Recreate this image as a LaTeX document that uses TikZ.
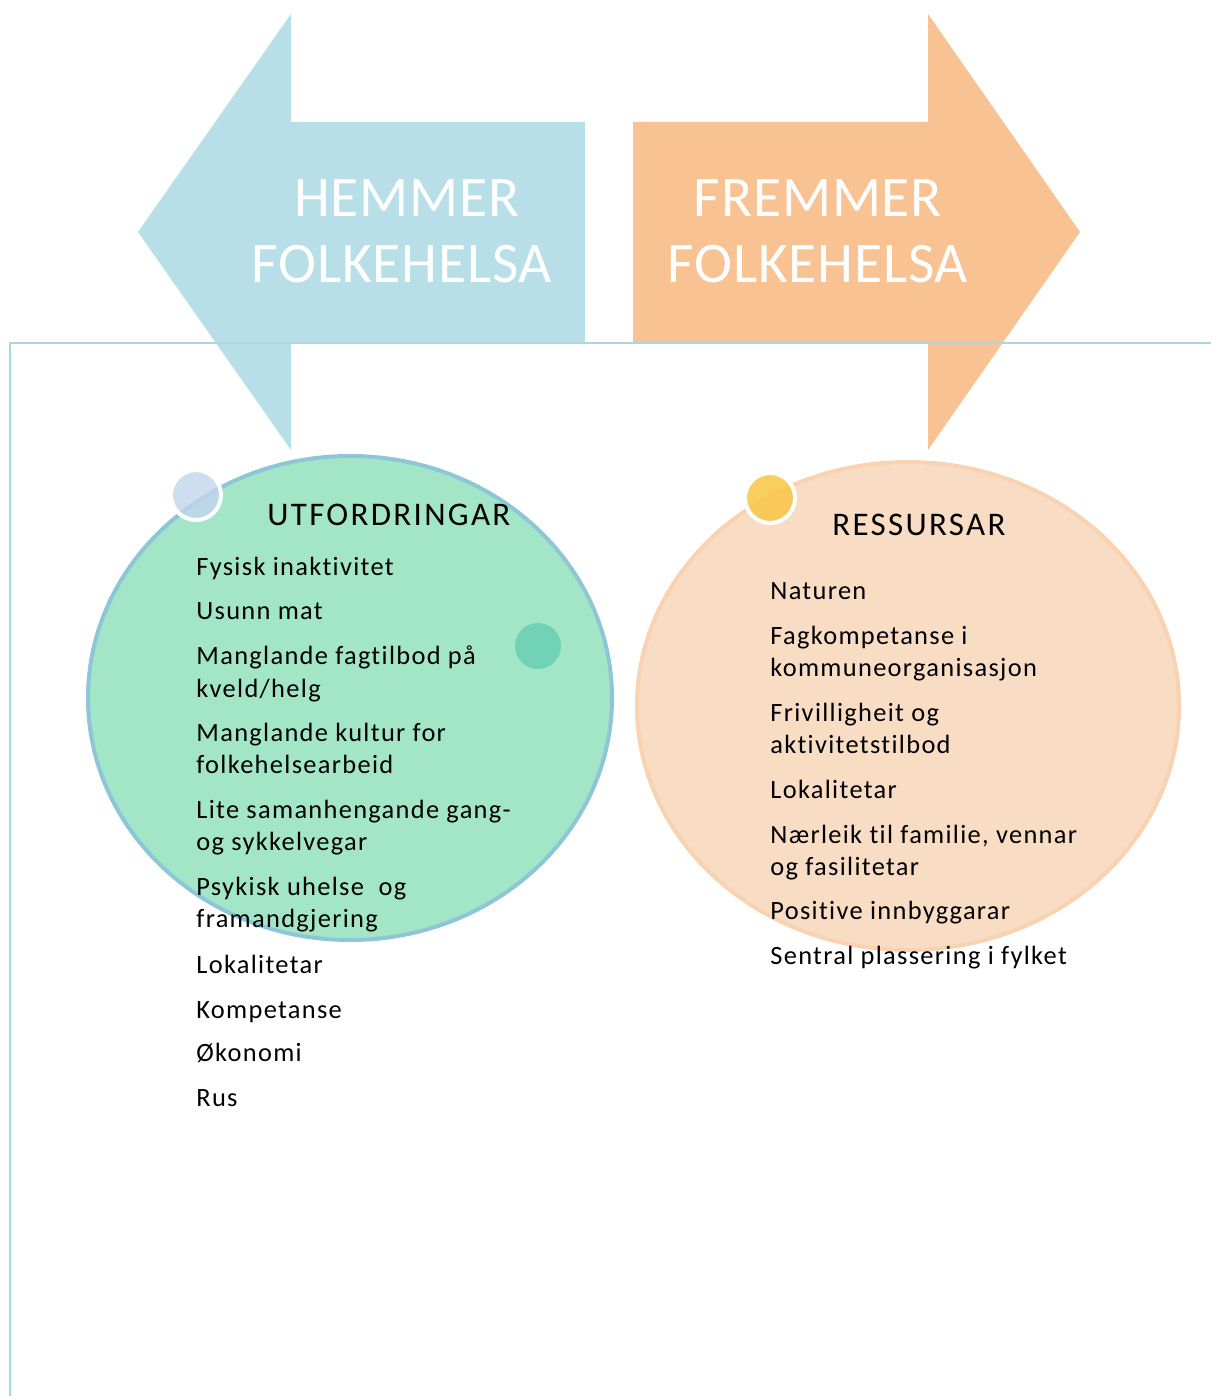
\documentclass[tikz,border=0pt]{standalone}
\usepackage{fontspec}
\setmainfont{Carlito}
\newfontfamily\punktfont{Carlito}[LetterSpace=5,Ligatures=NoCommon]
\newfontfamily\overfont{Carlito}[LetterSpace=7,Ligatures=NoCommon]
\newfontfamily\pilfont{Carlito}[LetterSpace=1.5]
\definecolor{hemblue}{HTML}{B8DEE7}
\definecolor{fremorange}{HTML}{F9C293}
\definecolor{linjeblue}{HTML}{AAD6E2}
\definecolor{utfgreen}{HTML}{A3E5C7}
\definecolor{utfrand}{HTML}{8EC6D8}
\definecolor{resspeach}{HTML}{F9DCC4}
\definecolor{ressrand}{HTML}{F9D2B2}
\definecolor{prikkblue}{HTML}{C3D4EE}
\definecolor{prikkteal}{HTML}{72D2B5}
\definecolor{prikkyellow}{HTML}{F8C84E}
\begin{document}
\begin{tikzpicture}[x=0.5pt,y=-0.5pt,
    pil/.style={text=white,anchor=base,inner sep=0pt,font=\pilfont\fontsize{28.7}{34}\selectfont},
    overskrift/.style={anchor=base west,inner sep=0pt,font=\overfont\fontsize{16.5}{20}\selectfont},
    punkt/.style={anchor=base west,inner sep=0pt,font=\punktfont\fontsize{13.2}{16}\selectfont},
    prikk/.style={draw=white,line width=2pt}]
    \useasboundingbox (0,0) rectangle (1211,1396);
    \coordinate (Ltip) at (138,232);
    \coordinate (Rtip) at (1080,232);
    \coordinate (hjorne) at (10,343);
    \coordinate (hogre) at (1211,343);
    \coordinate (botn) at (10,1396);
    \fill[hemblue] (Ltip) -- (291,14) -- (291,122) -- (585,122) -- (585,342) -- (291,342) -- (291,450) -- cycle;
    \fill[fremorange] (Rtip) -- (928,450) -- (928,342) -- (633,342) -- (633,122) -- (928,122) -- (928,14) -- cycle;
    \node[pil] (hem1) at (407,217) {HEMMER};
    \node[pil] (hem2) at (402,282) {FOLKEHELSA};
    \node[pil] (frem1) at (818,217) {FREMMER};
    \node[pil] (frem2) at (818,282) {FOLKEHELSA};
    \draw[linjeblue,line width=1.3pt] (hogre) -- (hjorne) -- (botn);
    \filldraw[fill=utfgreen,draw=utfrand,line width=2pt] (350,698) ellipse (262 and 242);
    \filldraw[fill=resspeach,draw=ressrand,line width=2pt] (908,706) ellipse (271 and 244);
    \draw[prikk,fill=prikkblue,fill opacity=0.8] (196,495) circle (25);
    \draw[prikk,fill=prikkyellow,fill opacity=0.9] (770,498) circle (25);
    \fill[prikkteal] (538,646) circle (23);
    \node[overskrift] (utf) at (267,525) {UTFORDRINGAR};
    \node[punkt] (u1) at (196,575) {Fysisk inaktivitet};
    \node[punkt] (u2) at (196,619) {Usunn mat};
    \node[punkt] (u3) at (196,664) {Manglande fagtilbod på};
    \node[punkt] (u3b) at (196,697) {kveld/helg};
    \node[punkt] (u4) at (196,741) {Manglande kultur for};
    \node[punkt] (u4b) at (196,773) {folkehelsearbeid};
    \node[punkt] (u5) at (196,818) {Lite samanhengande gang-};
    \node[punkt] (u5b) at (196,850) {og sykkelvegar};
    \node[punkt] (u6) at (196,895) {Psykisk uhelse~ og};
    \node[punkt] (u6b) at (196,927) {framandgjering};
    \node[punkt] (u7) at (196,973) {Lokalitetar};
    \node[punkt] (u8) at (196,1018) {Kompetanse};
    \node[punkt] (u9) at (196,1061) {Økonomi};
    \node[punkt] (u10) at (196,1106) {Rus};
    \node[overskrift] (ress) at (832,535) {RESSURSAR};
    \node[punkt] (r1) at (770,599) {Naturen};
    \node[punkt] (r2) at (770,644) {Fagkompetanse i};
    \node[punkt] (r2b) at (770,676) {kommuneorganisasjon};
    \node[punkt] (r3) at (770,721) {Frivilligheit og};
    \node[punkt] (r3b) at (770,753) {aktivitetstilbod};
    \node[punkt] (r4) at (770,798) {Lokalitetar};
    \node[punkt] (r5) at (770,843) {Nærleik til familie, vennar};
    \node[punkt] (r5b) at (770,875) {og fasilitetar};
    \node[punkt] (r6) at (770,919) {Positive innbyggarar};
    \node[punkt] (r7) at (770,964) {Sentral plassering i fylket};
\end{tikzpicture}
\end{document}
